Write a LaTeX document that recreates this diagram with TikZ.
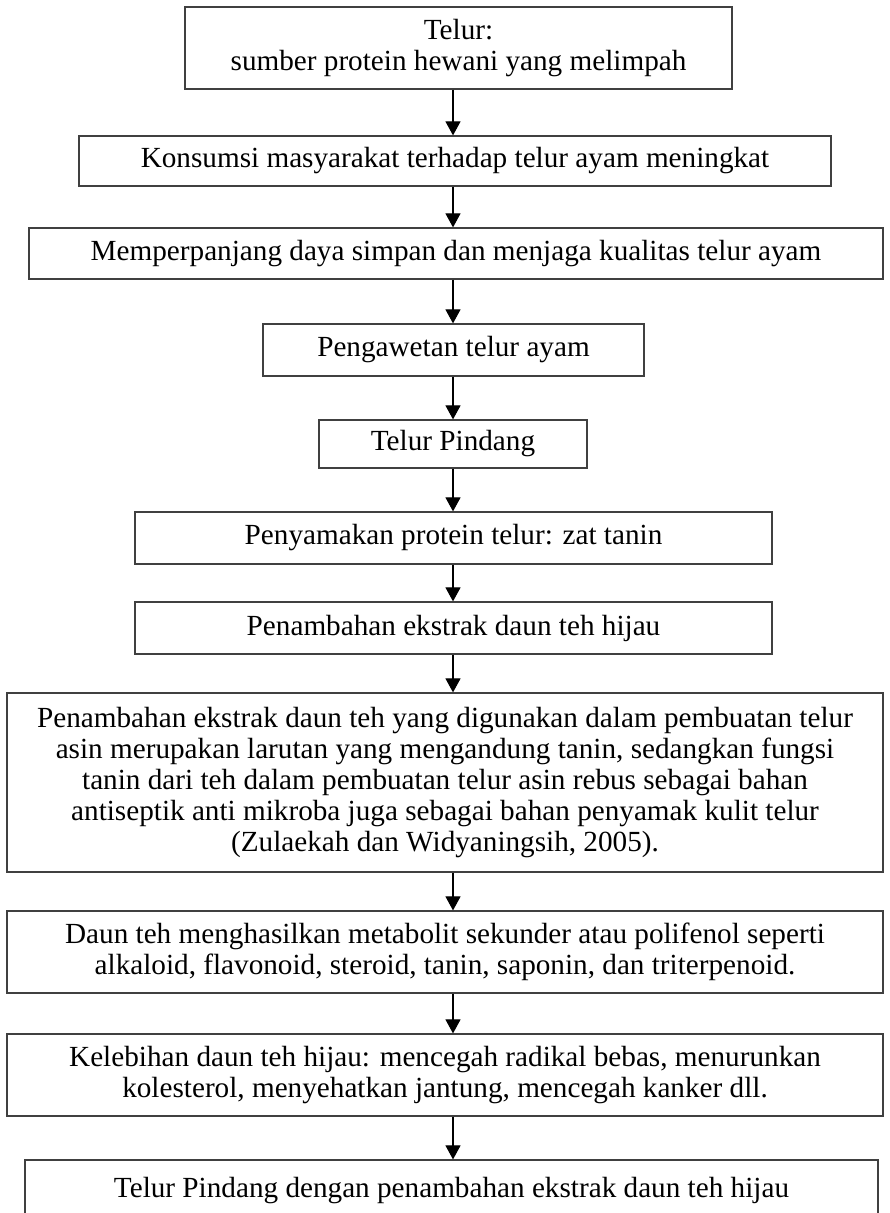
\documentclass[tikz,border=0pt]{standalone}
\usepackage{fontspec}
\setmainfont{Liberation Serif}
\usetikzlibrary{arrows.meta,positioning}
\tikzset{
  flowbox/.style={draw=black!75,line width=0.6pt,align=center,inner sep=0pt,
                  font=\fontsize{14.6pt}{15.6pt}\selectfont},
  flowarrow/.style={-{Triangle[length=7pt,width=7.5pt]},line width=0.55pt,black},
}

\begin{document}
\begin{tikzpicture}[x=0.5pt,y=-0.5pt]
  \useasboundingbox (0,0) rectangle (889,1213);
  \clip (0,0) rectangle (889,1213);
  \coordinate (spine) at (453,0);

  % ---- Boxes, top to bottom ----
  \node[flowbox,minimum width=273.5pt,minimum height=41pt]
    (telur) at (458.5,48) {Telur:\\sumber protein hewani yang melimpah};
  \node[flowbox,minimum width=376pt,minimum height=25pt]
    (konsumsi) at (455,161) {Konsumsi masyarakat terhadap telur ayam meningkat};
  \node[flowbox,minimum width=427pt,minimum height=25.5pt]
    (simpan) at (456,253.5) {Memperpanjang daya simpan dan menjaga kualitas telur ayam};
  \node[flowbox,minimum width=190.5pt,minimum height=26pt]
    (awet) at (453.5,350) {Pengawetan telur ayam};
  \node[flowbox,minimum width=134pt,minimum height=24pt]
    (pindang) at (453,444) {Telur Pindang};
  \node[flowbox,minimum width=318.5pt,minimum height=26pt]
    (samak) at (453.5,538) {Penyamakan protein telur: zat tanin};
  \node[flowbox,minimum width=318.5pt,minimum height=26pt]
    (ekstrak) at (453.5,628) {Penambahan ekstrak daun teh hijau};
  \node[flowbox,minimum width=438pt,minimum height=89.5pt]
    (tanin) at (445,782.5) {Penambahan ekstrak daun teh yang digunakan dalam pembuatan telur\\
      asin merupakan larutan yang mengandung tanin, sedangkan fungsi\\
      tanin dari teh dalam pembuatan telur asin rebus sebagai bahan\\
      antiseptik anti mikroba juga sebagai bahan penyamak kulit telur\\
      (Zulaekah dan Widyaningsih, 2005).};
  \node[flowbox,minimum width=438pt,minimum height=41pt]
    (metabolit) at (445,952) {Daun teh menghasilkan metabolit sekunder atau polifenol seperti\\
      alkaloid, flavonoid, steroid, tanin, saponin, dan triterpenoid.};
  \node[flowbox,minimum width=438pt,minimum height=41pt]
    (kelebihan) at (445,1075) {Kelebihan daun teh hijau: mencegah radikal bebas, menurunkan\\
      kolesterol, menyehatkan jantung, mencegah kanker dll.};
  \node[flowbox,minimum width=426.5pt,minimum height=31pt]
    (hasil) at (451.5,1191) {Telur Pindang dengan penambahan ekstrak daun teh hijau};

  % ---- Arrows down the middle ----
  \draw[flowarrow] (telur.south -| spine) -- (konsumsi.north -| spine);
  \draw[flowarrow] (konsumsi.south -| spine) -- (simpan.north -| spine);
  \draw[flowarrow] (simpan.south -| spine) -- (awet.north -| spine);
  \draw[flowarrow] (awet.south -| spine) -- (pindang.north -| spine);
  \draw[flowarrow] (pindang.south -| spine) -- (samak.north -| spine);
  \draw[flowarrow] (samak.south -| spine) -- (ekstrak.north -| spine);
  \draw[flowarrow] (ekstrak.south -| spine) -- (tanin.north -| spine);
  \draw[flowarrow] (tanin.south -| spine) -- (metabolit.north -| spine);
  \draw[flowarrow] (metabolit.south -| spine) -- (kelebihan.north -| spine);
  \draw[flowarrow] (kelebihan.south -| spine) -- (hasil.north -| spine);
\end{tikzpicture}
\end{document}
